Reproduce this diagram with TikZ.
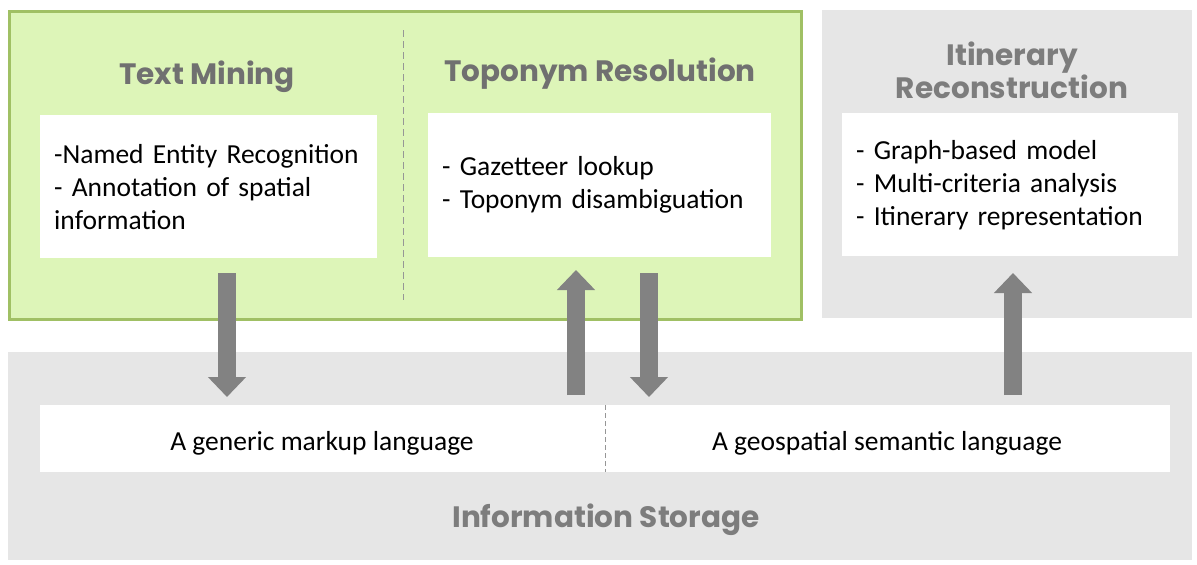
\documentclass[tikz,border=0pt]{standalone}
\usepackage{fontspec}
\setmainfont{Carlito}
\newfontfamily\titlefont{Poppins}
\usetikzlibrary{arrows.meta}
\definecolor{gfill}{RGB}{221,245,184}
\definecolor{gline}{RGB}{160,192,100}
\definecolor{lgray}{RGB}{230,230,230}
\definecolor{tgray}{RGB}{112,112,112}
\definecolor{tgray2}{RGB}{125,125,125}
\definecolor{agray}{RGB}{130,130,130}
\definecolor{dgray}{RGB}{150,150,150}
\tikzset{
  greenpanel/.style={fill=gfill, draw=gline, line width=3pt, anchor=north west, inner sep=0pt},
  graypanel/.style={fill=lgray, draw=none, anchor=north west, inner sep=0pt},
  wbox/.style={fill=white, draw=none, anchor=north west, inner xsep=14pt, inner ysep=0pt, align=left,
    font=\fontsize{27.5}{33}\selectfont, text=black},
  band/.style={fill=white, draw=none, anchor=north west, inner sep=0pt},
  bandtext/.style={font=\fontsize{27.5}{30}\selectfont, text=black, anchor=base},
  ptitle/.style={font=\titlefont\bfseries\fontsize{29.5}{33}\selectfont, text=tgray, anchor=base, align=center},
  ptitle2/.style={ptitle, text=tgray2},
  divider/.style={draw=dgray, line width=1pt, dash pattern=on 7pt off 4pt},
  bigarrow/.style={draw=agray, line width=18pt, -{Triangle[width=37pt,length=20pt]}},
}
\begin{document}
\begin{tikzpicture}[x=1pt,y=-1pt]
\useasboundingbox (0,0) rectangle (1197,565);
% panels
\node[greenpanel, minimum width=792pt, minimum height=308pt] (green) at (8,10) {};
\node[graypanel, minimum width=370pt, minimum height=308pt] (itin) at (822,10) {};
\node[graypanel, minimum width=1184pt, minimum height=208pt] (store) at (8,352) {};
% divider in green panel
\coordinate (d1) at (403,30);
\coordinate (d2) at (403,300);
\draw[divider] (d1) -- (d2);
% titles
\node[ptitle] (tmtitle) at (207,84) {Text Mining};
\node[ptitle] (trtitle) at (600,81) {Toponym Resolution};
\node[ptitle2] (irtitle) at (1012,98) {Itinerary\\Reconstruction};
\node[ptitle2] (sttitle) at (606,527) {Information Storage};
% white boxes
\node[wbox, text width=309pt, minimum height=143pt] (tm) at (40,115)
  {-Named Entity Recognition\\- Annotation of spatial\\information};
\node[wbox, text width=315pt, minimum height=144pt] (tr) at (428,113)
  {- Gazetteer lookup\\- Toponym disambiguation};
\node[wbox, text width=308pt, minimum height=143pt] (ir) at (842,113)
  {- Graph-based model\\- Multi-criteria analysis\\- Itinerary representation};
% storage band
\node[band, minimum width=1130pt, minimum height=67pt] (bandbox) at (40,405) {};
\coordinate (b1) at (605,405);
\coordinate (b2) at (605,472);
\draw[divider, line width=0.8pt, dash pattern=on 5pt off 3pt] (b1) -- (b2);
\node[bandtext] (gml) at (322,450) {A generic markup language};
\node[bandtext] (gsl) at (887,450) {A geospatial semantic language};
% arrows
\coordinate (a1s) at (227,273);
\coordinate (a1e) at (227,397);
\coordinate (a2s) at (576,395);
\coordinate (a2e) at (576,270);
\coordinate (a3s) at (649,273);
\coordinate (a3e) at (649,397);
\coordinate (a4s) at (1013,395);
\coordinate (a4e) at (1013,273);
\draw[bigarrow] (a1s) -- (a1e);
\draw[bigarrow] (a2s) -- (a2e);
\draw[bigarrow] (a3s) -- (a3e);
\draw[bigarrow] (a4s) -- (a4e);
\end{tikzpicture}
\end{document}
